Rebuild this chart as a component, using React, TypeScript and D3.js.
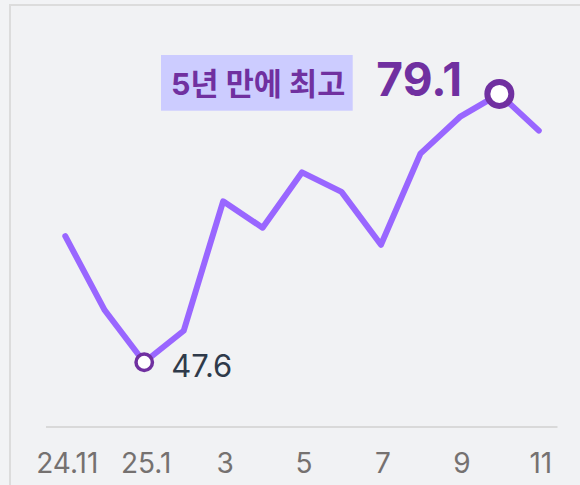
import React from "react";
import * as d3 from "d3";

const months = ["24.11", "24.12", "25.1", "25.2", "25.3", "25.4", "25.5", "25.6", "25.7", "25.8", "25.9", "25.10", "25.11"];
const values = [62.4, 53.7, 47.6, 51.3, 66.5, 63.4, 69.9, 67.6, 61.4, 72.1, 76.4, 79.1, 74.8];
const tickLabels: [string, string][] = [
  ["24.11", "24.11"],
  ["25.1", "25.1"],
  ["25.3", "3"],
  ["25.5", "5"],
  ["25.7", "7"],
  ["25.9", "9"],
  ["25.11", "11"],
];
const minLabel = "47.6";
const maxLabel = "79.1";
const highlightText = "5년 만에 최고";

const W = 580;
const H = 485;
const FONT = "Inter, 'Noto Sans CJK KR', sans-serif";

export default function App() {
  const x = d3.scalePoint<string>().domain(months).range([65.3, 538.8]);
  const y = d3.scaleLinear().domain([40, 80]).range([427, 86.3]);
  const data = months.map((m, i) => ({ m, v: values[i] }));
  const line = d3
    .line<{ m: string; v: number }>()
    .x((d) => x(d.m) as number)
    .y((d) => y(d.v));

  const minIdx = values.indexOf(d3.min(values) as number);
  const maxIdx = values.indexOf(d3.max(values) as number);
  const minX = x(months[minIdx]) as number;
  const minY = y(values[minIdx]);
  const maxX = x(months[maxIdx]) as number;
  const maxY = y(values[maxIdx]);

  return (
    <svg
      width={W}
      height={H}
      style={{ position: "absolute", left: 0, top: 0, display: "block" }}
      fontFamily={FONT}
    >
      <rect x={0} y={0} width={W} height={H} fill="#f2f3f5" />
      <rect x={10} y={5} width={W + 20} height={H + 20} fill="#f1f2f4" stroke="#dcdcdc" strokeWidth={2} />
      <line x1={46} x2={557.5} y1={y(40)} y2={y(40)} stroke="#d9d9d9" strokeWidth={2} />
      {tickLabels.map(([k, lab]) => (
        <text
          key={k}
          x={(x(k) as number) + 2}
          y={472.7}
          textAnchor="middle"
          fontSize={28}
          fill="#757170"
        >
          {lab}
        </text>
      ))}
      <path
        d={line(data) || ""}
        fill="none"
        stroke="#9966ff"
        strokeWidth={6}
        strokeLinecap="round"
        strokeLinejoin="round"
      />
      <circle cx={minX} cy={minY} r={8.2} fill="#ffffff" stroke="#7030a0" strokeWidth={3.5} />
      <circle cx={maxX} cy={maxY} r={12} fill="#ffffff" stroke="#7030a0" strokeWidth={6} />
      <text x={minX + 27} y={minY + 14.4} fontSize={31} fill="#2f3a4a">
        {minLabel}
      </text>
      <rect x={161} y={55} width={191.7} height={55.7} fill="#ccccff" />
      <text x={171} y={94.5} fontSize={30.5} fontWeight={700} fill="#7030a0">
        {highlightText}
      </text>
      <text x={maxX - 123} y={maxY + 2} fontSize={46} fontWeight={700} fill="#7030a0">
        {maxLabel}
      </text>
    </svg>
  );
}
